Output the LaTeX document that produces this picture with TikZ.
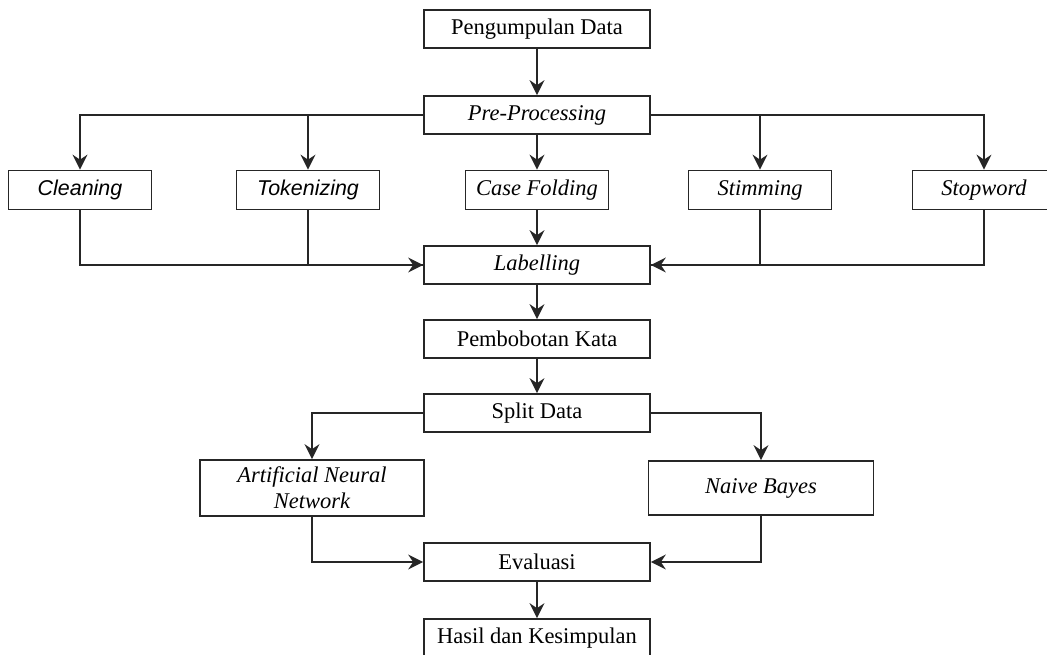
\documentclass[tikz,border=0pt]{standalone}
\usepackage{fontspec}
\setmainfont{Liberation Serif}
\setsansfont{Liberation Sans}
\usetikzlibrary{arrows.meta}

\begin{document}
\begin{tikzpicture}[x=.02cm,y=-.02cm,
      block/.style={draw=black!85, line width=1pt, fill=white, inner sep=0pt,
        minimum width=4.52cm, minimum height=.76cm, align=center,
        font=\fontsize{12.8}{14.6}\selectfont},
      substep/.style={block, minimum width=2.86cm, minimum height=.78cm,
        font=\fontsize{12.8}{14.6}\selectfont\itshape},
      sansstep/.style={substep, font=\fontsize{12.2}{14}\selectfont\sffamily\itshape},
      method/.style={block, minimum width=4.5cm, minimum height=1.12cm,
        font=\fontsize{12.8}{14.6}\selectfont\itshape},
      wire/.style={draw=black!85, line width=1pt},
      link/.style={wire, -{Stealth[length=3mm,width=3mm,inset=1mm]}}]
      \useasboundingbox (0,0) rectangle (1047,655);

      % main column
      \node[block] (collect) at (537,29) {Pengumpulan Data};
      \node[block, font=\fontsize{12.8}{14.6}\selectfont\itshape] (prep)
        at (537,115) {Pre-Processing};
      \node[block, font=\fontsize{12.8}{14.6}\selectfont\itshape] (label)
        at (537,265) {Labelling};
      \node[block] (weight) at (537,339) {Pembobotan Kata};
      \node[block] (split) at (537,413) {Split Data};
      \node[block] (eval) at (537,562) {Evaluasi};
      \node[block] (result) at (537,638) {Hasil dan Kesimpulan};

      % pre-processing steps
      \node[sansstep] (clean) at (80,190) {Cleaning};
      \node[sansstep] (token) at (308,190) {Tokenizing};
      \node[substep] (fold) at (537,190) {Case Folding};
      \node[substep] (stim) at (760,190) {Stimming};
      \node[substep] (stop) at (984,190) {Stopword};

      % classifiers
      \node[method, minimum width=4.48cm] (ann) at (312,488)
        {Artificial Neural\\Network};
      \node[method, minimum width=4.5cm, minimum height=1.08cm] (nb)
        at (761,488) {Naive Bayes};

      \draw[link] (collect) -- (prep);
      \draw[link] (prep.west) -| (clean);
      \draw[link] (prep.west) -| (token);
      \draw[link] (prep) -- (fold);
      \draw[link] (prep.east) -| (stim);
      \draw[link] (prep.east) -| (stop);

      \draw[wire] (token) |- (label);
      \draw[link] (clean) |- (label);
      \draw[link] (fold) -- (label);
      \draw[wire] (stim) |- (label);
      \draw[link] (stop) |- (label);

      \draw[link] (label) -- (weight);
      \draw[link] (weight) -- (split);
      \draw[link] (split) -| (ann);
      \draw[link] (split) -| (nb);
      \draw[link] (ann) |- (eval);
      \draw[link] (nb) |- (eval);
      \draw[link] (eval) -- (result);
    \end{tikzpicture}
\end{document}
